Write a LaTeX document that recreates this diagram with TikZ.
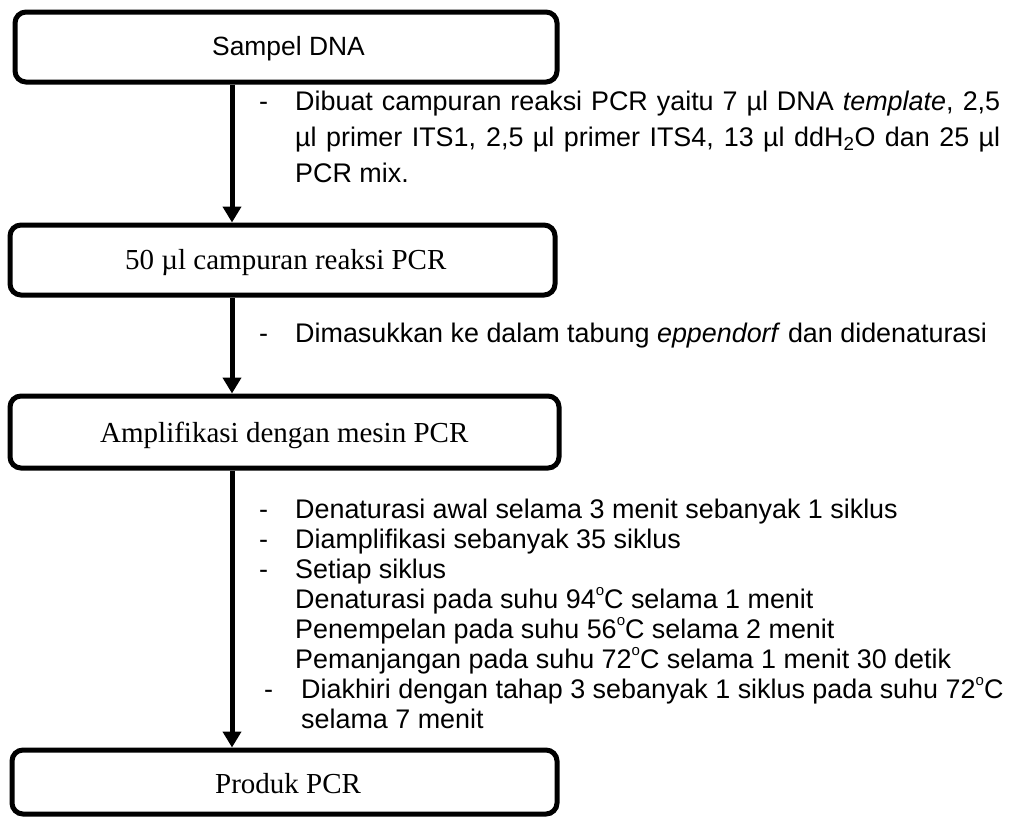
\documentclass[tikz,border=0pt]{standalone}
\usepackage{fontspec}
\setmainfont{Liberation Serif}
\setsansfont{Liberation Sans}
\usetikzlibrary{arrows.meta}
\newcommand{\degsup}{\raisebox{0.85ex}{\fontsize{15}{15}\selectfont o}}
\begin{document}
\begin{tikzpicture}[x=1pt,y=-1pt,
  box/.style={draw, line width=5pt, rounded corners=11pt, inner sep=0pt},
  flow/.style={line width=5pt, -{Triangle[width=18pt,length=16pt]}},
  lbl/.style={font=\fontsize{26.9}{30}\selectfont\sffamily, anchor=base west, inner sep=0pt},
  boxtxt/.style={font=\fontsize{29}{33}\selectfont\rmfamily, anchor=base west, inner sep=0pt},
  boxtxts/.style={font=\fontsize{26.4}{30}\selectfont\sffamily, anchor=base west, inner sep=0pt}]
\useasboundingbox (0,0) rectangle (1009,817);
% boxes
\node[box, minimum width=542pt, minimum height=70pt] (b1) at (286,47) {};
\node[box, minimum width=545pt, minimum height=70pt] (b2) at (282.5,260) {};
\node[box, minimum width=549pt, minimum height=72pt] (b3) at (284.5,432) {};
\node[box, minimum width=545pt, minimum height=64pt] (b4) at (284.5,782) {};
% box texts
\node[boxtxts] (t1) at (212,55) {Sampel DNA};
\node[boxtxt] (t2) at (125,269) {50 µl campuran reaksi PCR};
\node[boxtxt] (t3) at (100,442) {Amplifikasi dengan mesin PCR};
\node[boxtxt] (t4) at (215,793) {Produk PCR};
% arrows
\coordinate (ax) at (232,0);
\draw[flow] (b1.south -| ax) -- (b2.north -| ax);
\draw[flow] (b2.south -| ax) -- (b3.north -| ax);
\draw[flow] (b3.south -| ax) -- (b4.north -| ax);
% step 1 notes
\node[lbl] (d1) at (259,110) {-};
\node[lbl] (n1a) at (295,110) {\makebox[705pt][s]{Dibuat campuran reaksi PCR yaitu 7 µl DNA \textit{template}, 2,5}};
\node[lbl] (n1b) at (295,146) {\makebox[705pt][s]{µl primer ITS1, 2,5 µl primer ITS4, 13 µl ddH\textsubscript{2}O dan 25 µl}};
\node[lbl] (n1c) at (295,182) {PCR mix.};
% step 2 notes
\node[lbl] (d2) at (259,342) {-};
\node[lbl] (n2) at (295,342) {Dimasukkan ke dalam tabung \textit{eppendorf} dan didenaturasi};
% step 3 notes
\node[lbl] (d3) at (259,518) {-};
\node[lbl] (n3a) at (295,518) {Denaturasi awal selama 3 menit sebanyak 1 siklus};
\node[lbl] (d4) at (259,548) {-};
\node[lbl] (n3b) at (295,548) {Diamplifikasi sebanyak 35 siklus};
\node[lbl] (d5) at (259,578) {-};
\node[lbl] (n3c) at (295,578) {Setiap siklus};
\node[lbl] (n3d) at (295,608) {Denaturasi pada suhu 94\degsup C selama 1 menit};
\node[lbl] (n3e) at (295,638) {Penempelan pada suhu 56\degsup C selama 2 menit};
\node[lbl] (n3f) at (295,668) {Pemanjangan pada suhu 72\degsup C selama 1 menit 30 detik};
\node[lbl] (d6) at (264,698) {-};
\node[lbl] (n3g) at (301,698) {Diakhiri dengan tahap 3 sebanyak 1 siklus pada suhu 72\degsup C};
\node[lbl] (n3h) at (301,728) {selama 7 menit};
\end{tikzpicture}
\end{document}
